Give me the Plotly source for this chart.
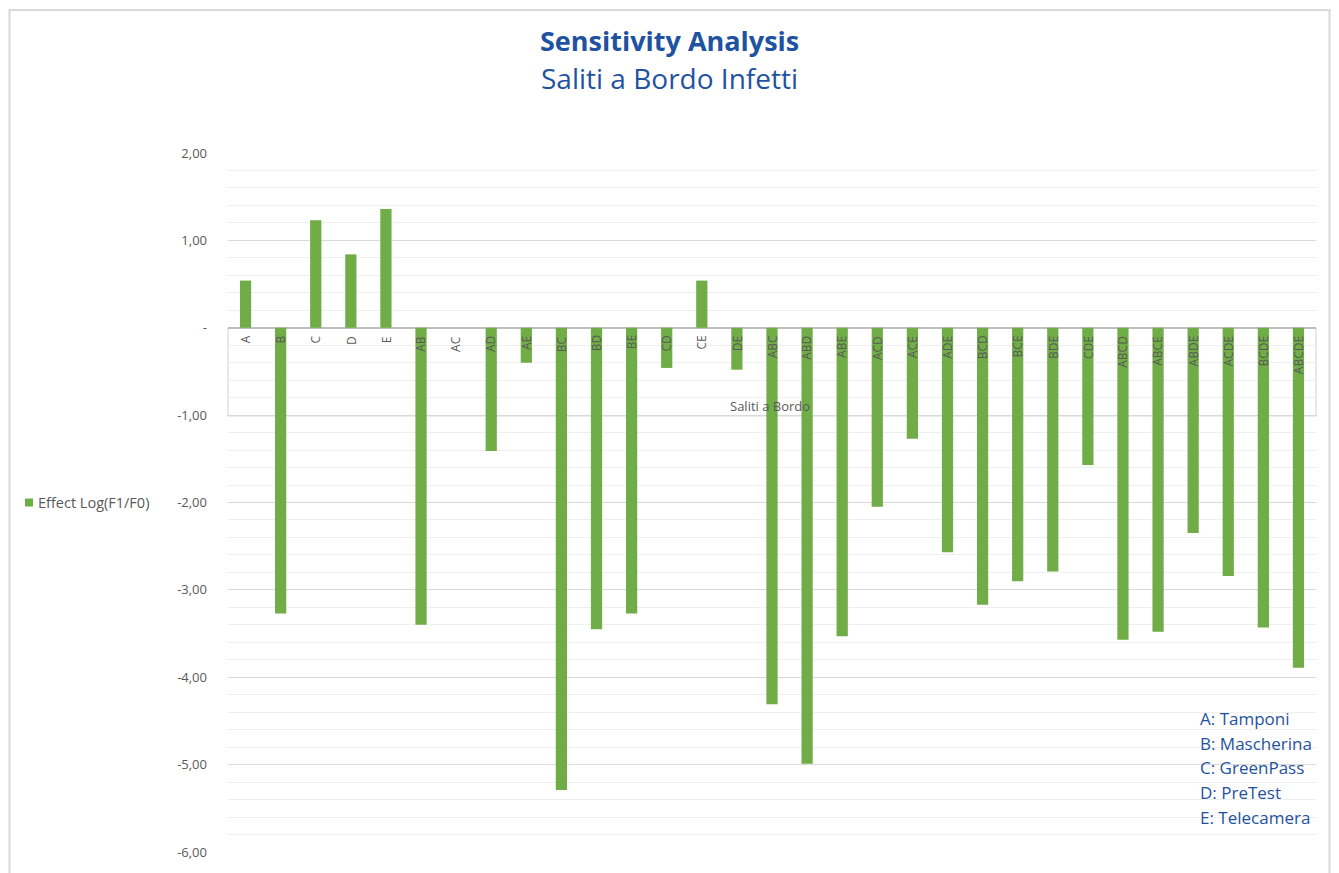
import plotly.graph_objects as go

categories = ["A", "B", "C", "D", "E", "AB", "AC", "AD", "AE", "BC", "BD", "BE", "CD", "CE", "DE",
              "ABC", "ABD", "ABE", "ACD", "ACE", "ADE", "BCD", "BCE", "BDE", "CDE",
              "ABCD", "ABCE", "ABDE", "ACDE", "BCDE", "ABCDE"]
effect = [0.54, -3.27, 1.23, 0.84, 1.36, -3.40, 0.0, -1.41, -0.40, -5.29, -3.45, -3.27, -0.46, 0.54, -0.48,
          -4.31, -4.99, -3.53, -2.05, -1.27, -2.57, -3.17, -2.90, -2.79, -1.57,
          -3.57, -3.48, -2.35, -2.84, -3.43, -3.89]
y_tickvals = [2, 1, 0, -1, -2, -3, -4, -5, -6]
y_ticktext = ["2,00", "1,00", "-", "-1,00", "-2,00", "-3,00", "-4,00", "-5,00", "-6,00"]
series_name = "Effect Log(F1/F0)"
legend_lines = ["A: Tamponi", "B: Mascherina", "C: GreenPass", "D: PreTest", "E: Telecamera"]

OFF = 8  # page offset of the figure inside the browser window
W, H = 1339 - OFF, 873 - OFF
L, R, T, B = 220, 23, 145, 18
pw = W - L - R
ph = H - T - B

def px_x(p):
    return (p - OFF - L) / pw

def px_y(p):
    return (H - B - (p - OFF)) / ph

FONT = "Open Sans"
BLUE = "#1f52a0"
GRAY = "#595959"
GREEN = "#70ad47"

fig = go.Figure()
fig.add_trace(go.Bar(
    x=list(range(len(categories))), y=effect, name=series_name,
    marker=dict(color=GREEN, line=dict(width=0)), width=0.32, showlegend=False,
))

annotations = []
for i, c in enumerate(categories):
    annotations.append(dict(x=i, y=0, xref="x", yref="y", text=c, showarrow=False,
                            textangle=-90, yanchor="top", xanchor="center", yshift=-6,
                            font=dict(family=FONT, size=12, color=GRAY)))

annotations.append(dict(x=px_x(770), y=px_y(407), xref="paper", yref="paper", text="Saliti a Bordo",
                        showarrow=False, font=dict(family=FONT, size=13, color=GRAY),
                        xanchor="center", yanchor="middle"))

annotations.append(dict(x=px_x(669.5), xref="paper", y=px_y(40), yref="paper", text="<b>Sensitivity Analysis</b>",
                        showarrow=False, font=dict(family=FONT, size=27, color=BLUE), yanchor="middle"))
annotations.append(dict(x=px_x(669.5), xref="paper", y=px_y(78), yref="paper", text="Saliti a Bordo Infetti",
                        showarrow=False, font=dict(family=FONT, size=28, color=BLUE), yanchor="middle"))

for k, t in enumerate(legend_lines):
    annotations.append(dict(x=px_x(1198), xref="paper", y=px_y(721 + k * 24.8), yref="paper", text=t,
                            showarrow=False, xanchor="left", yanchor="middle",
                            font=dict(family=FONT, size=17, color=BLUE)))

# series legend (left side)
annotations.append(dict(x=px_x(36), xref="paper", y=px_y(504), yref="paper", text=series_name,
                        showarrow=False, xanchor="left", yanchor="middle",
                        font=dict(family=FONT, size=14.5, color=GRAY)))

shapes = [
    dict(type="rect", xref="paper", yref="paper", x0=px_x(25), x1=px_x(33), y0=px_y(508), y1=px_y(500),
         fillcolor=GREEN, line=dict(width=0)),
    dict(type="rect", xref="paper", yref="y", x0=0, x1=1, y0=-1.01, y1=0,
         line=dict(color="#d9d9d9", width=1.2), layer="below"),
    dict(type="rect", xref="paper", yref="paper", x0=px_x(9.5), x1=px_x(1329.5), y0=px_y(885), y1=px_y(9.5),
         line=dict(color="#d9d9d9", width=2)),
]

fig.update_layout(
    width=W, height=H,
    margin=dict(l=L, r=R, t=T, b=B),
    paper_bgcolor="white", plot_bgcolor="white",
    showlegend=False,
    annotations=annotations,
    shapes=shapes,
    xaxis=dict(range=[-0.5, len(categories) - 0.5], showticklabels=False, showgrid=False,
               zeroline=False, showline=False, ticks=""),
    yaxis=dict(range=[-6, 2], tickvals=y_tickvals, ticktext=y_ticktext,
               tickfont=dict(family=FONT, size=13, color=GRAY),
               showgrid=True, gridcolor="#d9d9d9", gridwidth=1,
               zeroline=True, zerolinecolor="#bfbfbf", zerolinewidth=1.5,
               minor=dict(dtick=0.2, tick0=0, showgrid=True, gridcolor="#efefef", gridwidth=1),
               showline=False, ticks="", ticklabelstandoff=20),
)

fig.write_html("out.html")
